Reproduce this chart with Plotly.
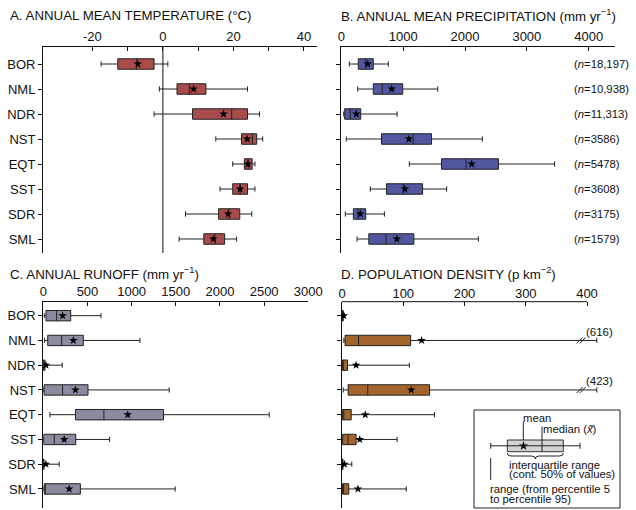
import plotly.graph_objects as go

W, H = 636, 510
FONT = "Arial, Liberation Sans, sans-serif"

cats = ["BOR", "NML", "NDR", "NST", "EQT", "SST", "SDR", "SML"]
n_labels = ["18,197", "10,938", "11,313", "3586", "5478", "3608", "3175", "1579"]

temp_low = [-17.5, -1.0, -2.5, 15.0, 19.8, 16.2, 6.4, 4.6]
temp_q1 = [-12.8, 4.0, 8.4, 22.3, 23.1, 19.8, 15.8, 11.6]
temp_med = [-7.4, 7.5, 19.5, 25.4, 24.2, 21.9, 18.7, 14.8]
temp_mean = [-7.1, 8.7, 17.2, 23.9, 24.1, 21.9, 18.5, 14.3]
temp_q3 = [-2.5, 12.2, 24.0, 26.6, 25.3, 24.0, 21.8, 17.5]
temp_high = [1.4, 24.0, 27.4, 28.3, 26.1, 26.1, 25.2, 20.9]

prec_low = [130, 265, 40, 80, 1100, 470, 65, 255]
prec_q1 = [275, 517, 55, 650, 1620, 730, 195, 445]
prec_med = [395, 663, 146, 1160, 2016, 1005, 270, 724]
prec_mean = [427, 815, 243, 1092, 2108, 1027, 308, 897]
prec_q3 = [517, 993, 314, 1459, 2541, 1314, 395, 1173]
prec_high = [760, 1560, 903, 2281, 3449, 1703, 697, 2216]

run_low = [10, 15, 0, 3, 75, 0, 0, 0]
run_q1 = [30, 50, 2, 8, 364, 4, 1, 11]
run_med = [151, 208, 5, 218, 686, 124, 2, 23]
run_mean = [219, 340, 30, 364, 956, 236, 30, 293]
run_q3 = [310, 453, 19, 506, 1361, 368, 8, 420]
run_high = [653, 1094, 214, 1425, 2558, 750, 180, 1493]

pop_low = [0, 3, 0, 2, 0, 0, 0, 0]
pop_q1 = [0.3, 5, 0.5, 10, 0.5, 1, 0.2, 1]
pop_med = [1, 27, 2, 42, 3, 10, 1, 2]
pop_mean = [3, 130, 23, 113, 38, 29, 4, 26]
pop_q3 = [2, 112, 9, 143, 15, 23, 1.5, 11]
pop_high = [4, 616, 110, 423, 151, 90, 16, 105]

POP_AXIS_MAX = 400
POP_BREAK_DRAW = 416  # where broken whiskers are drawn to


def X(px):
    return px / W


def Y(py):
    return 1 - py / H


pos = list(range(len(cats)))
fig = go.Figure()

panels = [
    ("x", "y", temp_low, temp_q1, temp_med, temp_mean, temp_q3, temp_high, "#a84b4b"),
    ("x2", "y2", prec_low, prec_q1, prec_med, prec_mean, prec_q3, prec_high, "#51569e"),
    ("x3", "y3", run_low, run_q1, run_med, run_mean, run_q3, run_high, "#8b8ba0"),
    ("x4", "y4", pop_low, pop_q1, pop_med, pop_mean, pop_q3,
     [min(v, POP_BREAK_DRAW) if v > POP_AXIS_MAX else v for v in pop_high], "#a3652b"),
]

for xa, ya, lo, q1, md, mn, q3, hi, col in panels:
    fig.add_trace(go.Box(
        y=pos, q1=q1, median=md, q3=q3, lowerfence=lo, upperfence=hi,
        orientation="h", xaxis=xa, yaxis=ya, fillcolor=col,
        line=dict(color="#222222", width=1), width=0.42, whiskerwidth=0.5,
        boxpoints=False, showlegend=False, hoverinfo="skip"))
    fig.add_trace(go.Scatter(
        x=mn, y=pos, mode="markers", xaxis=xa, yaxis=ya,
        marker=dict(symbol="star", size=6.5, color="black"),
        showlegend=False, hoverinfo="skip"))

# axis break marks for population whiskers beyond axis
brk_x, brk_y = [], []
for i, v in enumerate(pop_high):
    if v > POP_AXIS_MAX:
        brk_x += [388, 393]
        brk_y += [i, i]
        fig.add_annotation(x=421, y=i - 0.36, xref="x4", yref="y4", text=f"({v})",
                           showarrow=False, font=dict(size=11.5, family=FONT, color="#111"))
fig.add_trace(go.Scatter(
    x=brk_x, y=brk_y, mode="markers", xaxis="x4", yaxis="y4",
    marker=dict(symbol="line-ne", size=6, color="#222", line=dict(width=1, color="#222")),
    showlegend=False, hoverinfo="skip"))

# key star on a hidden, page-sized overlay axis
fig.add_trace(go.Scatter(
    x=[523.5], y=[446], mode="markers", xaxis="x5", yaxis="y5",
    marker=dict(symbol="star", size=7, color="black"),
    showlegend=False, hoverinfo="skip"))

axis_common = dict(showgrid=False, zeroline=False, showline=True, linecolor="#111",
                   linewidth=1, ticks="inside", ticklen=4, tickcolor="#111", automargin=False,
                   tickfont=dict(size=13, family=FONT, color="#111"), side="top")
ycommon = dict(showgrid=False, zeroline=False, showline=True, linecolor="#111",
               linewidth=1, ticks="outside", ticklen=4, tickcolor="#111", automargin=False,
               tickvals=pos, ticktext=cats,
               tickfont=dict(size=13, family=FONT, color="#111"))

top_dom = [Y(253), Y(47)]
bot_dom = [Y(508), Y(301.7)]

t_vals = list(range(-20, 41, 10))
fig.update_layout(
    xaxis=dict(axis_common, domain=[X(43), X(317)], range=[-34, 43.7], anchor="y",
               tickvals=t_vals, ticktext=[str(v) if v % 20 == 0 else "" for v in t_vals]),
    yaxis=dict(ycommon, domain=top_dom, range=[7.56, -0.68], anchor="x"),
    xaxis2=dict(axis_common, domain=[X(341.3), X(615)], range=[0, 4425], anchor="y2",
                tickvals=[0, 1000, 2000, 3000, 4000]),
    yaxis2=dict(ycommon, domain=top_dom, range=[7.56, -0.68], anchor="x2", showticklabels=False),
    xaxis3=dict(axis_common, domain=[X(43.3), X(308.3)], range=[0, 3000], anchor="y3",
                tickvals=[0, 500, 1000, 1500, 2000, 2500, 3000]),
    yaxis3=dict(ycommon, domain=bot_dom, range=[7.77, -0.565], anchor="x3"),
    xaxis4=dict(axis_common, domain=[X(342), X(342 + 430 * 0.6125)], range=[0, 430],
                anchor="y4", tickvals=[0, 100, 200, 300, 400], showline=False),
    yaxis4=dict(ycommon, domain=bot_dom, range=[7.77, -0.565], anchor="x4", showticklabels=False),
    xaxis5=dict(domain=[0, 1], range=[0, W], visible=False, anchor="y5", fixedrange=True),
    yaxis5=dict(domain=[0, 1], range=[H, 0], visible=False, anchor="x5", fixedrange=True),
    width=W, height=H, margin=dict(l=0, r=0, t=0, b=0, autoexpand=False),
    paper_bgcolor="white", plot_bgcolor="rgba(0,0,0,0)",
    font=dict(family=FONT, color="#111"),
)

# zero line in A, axis line in D
fig.add_shape(type="line", xref="x", yref="y domain", x0=0, x1=0, y0=0, y1=1,
              line=dict(color="#111", width=1))
fig.add_shape(type="line", xref="x4", yref="y4 domain", x0=0, x1=POP_AXIS_MAX, y0=1, y1=1,
              line=dict(color="#111", width=1))

# panel titles
titles = [
    (8, 15, "A. ANNUAL MEAN TEMPERATURE (°C)"),
    (338.5, 15, "B. ANNUAL MEAN PRECIPITATION (mm yr<sup>−1</sup>)"),
    (8, 273, "C. ANNUAL RUNOFF (mm yr<sup>−1</sup>)"),
    (338.5, 273, "D. POPULATION DENSITY (p km<sup>−2</sup>)"),
]
for x, y, t in titles:
    fig.add_annotation(x=X(x), y=Y(y), xref="paper", yref="paper", text=t, showarrow=False,
                       xanchor="left", yanchor="middle",
                       font=dict(size=13.3, family=FONT, color="#111"))

# n labels
for i, n in enumerate(n_labels):
    fig.add_annotation(x=X(572), y=i, xref="paper", yref="y2", text=f"(<i>n</i>={n})",
                       showarrow=False, xanchor="left", yanchor="middle",
                       font=dict(size=11.3, family=FONT, color="#111"))

# key box
def line(x0, y0, x1, y1, w=1, c="#222"):
    fig.add_shape(type="line", xref="paper", yref="paper", x0=X(x0), y0=Y(y0),
                  x1=X(x1), y1=Y(y1), line=dict(color=c, width=w))


fig.add_shape(type="rect", xref="paper", yref="paper", x0=X(474), y0=Y(508), x1=X(620), y1=Y(410),
              line=dict(color="#222", width=1), fillcolor="white", layer="below")
line(490.7, 445.8, 580, 445.8)
line(490.7, 442.8, 490.7, 448.8)
line(580, 442.8, 580, 448.8)
fig.add_shape(type="rect", xref="paper", yref="paper", x0=X(507.3), y0=Y(451.7), x1=X(563.3), y1=Y(440),
              line=dict(color="#333", width=1), fillcolor="#d3d3d3", layer="below")
line(542, 426.7, 542, 451.7)
line(523.3, 421.7, 523.3, 440)
line(490.7, 458, 490.7, 480)
brace = ("M {a},{b} Q {a},{c} {d},{c} L {e},{c} Q {m},{c} {m},{f} "
         "Q {m},{c} {g},{c} L {h},{c} Q {k},{c} {k},{b}").format(
    a=X(507.3), b=Y(453), c=Y(456), d=X(511), e=X(531.5), m=X(535.3), f=Y(459),
    g=X(539), h=X(559.5), k=X(563.3))
fig.add_shape(type="path", xref="paper", yref="paper", path=brace, line=dict(color="#222", width=1))
key_texts = [
    (521, 418, "mean"),
    (540.5, 429, "median (<i>x̃</i>)"),
    (507, 464.5, "interquartile range"),
    (507, 474, "(cont. 50% of values)"),
    (487.5, 489, "range (from percentile 5"),
    (487.5, 498.5, "to percentile 95)"),
]
for x, y, t in key_texts:
    fig.add_annotation(x=X(x), y=Y(y), xref="paper", yref="paper", text=t, showarrow=False,
                       xanchor="left", yanchor="middle",
                       font=dict(size=11.3, family=FONT, color="#111"))

fig.write_html("out.html")
